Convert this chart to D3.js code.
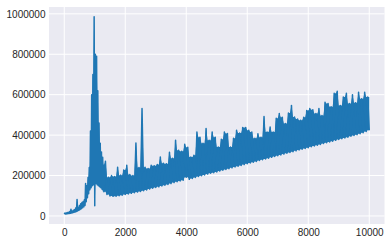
<!DOCTYPE html>
<html>
<head>
<meta charset="utf-8">
<script src="https://cdn.jsdelivr.net/npm/d3@7"></script>
<style>
  body { margin: 0; background: #fff; }
  svg { display: block; }
</style>
</head>
<body>
<svg class="canvas" width="391" height="244"></svg>
<script>
// values: the series swings between a trough and a crest,
// so it is kept as troughs (low) and crests (high) sampled along x
const earlyStep = 40; // lows at 0,40,..,1280 / highs at 20,60,..,1300
const earlyLow = [
  9000, 10000, 10000, 11000, 12000, 13000, 15000, 16000, 18000, 20000,
  22000, 25000, 28000, 32000, 36000, 40000, 45000, 52000, 70000, 90000,
  110000, 130000, 140000, 150000, 155000, 50000, 160000, 155000, 150000, 145000,
  140000, 132000, 125000
];
const earlyHigh = [
  14000, 15000, 17000, 18000, 22000, 33000, 24000, 28000, 32000, 40000,
  82000, 42000, 52000, 60000, 66000, 72000, 80000, 160000, 150000, 190000,
  240000, 420000, 600000, 700000, 985000, 800000, 790000, 620000, 460000, 360000,
  317000, 290000, 251000
];

const bandStart = 1300;
const bandStep = 100; // lows at 1300,1400,..,10000 / highs at 1350,..,9950
const bandLow = [
  120000, 106000, 99000, 97000, 98000, 100000, 103000, 106000, 109000, 112000,
  115000, 118000, 121000, 125000, 129000, 133000, 137000, 141000, 144000, 148000,
  152000, 156000, 160000, 165000, 169000, 173000, 177000, 192000, 181000, 185000,
  190000, 195000, 199000, 203000, 207000, 211000, 214000, 218000, 222000, 226000,
  230000, 234000, 238000, 242000, 246000, 250000, 254000, 258000, 262000, 266000,
  270000, 274000, 278000, 282000, 286000, 290000, 294000, 298000, 302000, 306000,
  310000, 314000, 318000, 322000, 326000, 330000, 334000, 338000, 342000, 346000,
  350000, 354000, 358000, 362000, 366000, 370000, 374000, 378000, 382000, 386000,
  390000, 394000, 398000, 402000, 407000, 412000, 418000, 424000
];
const bandHigh = [
  271000, 192000, 200000, 195000, 241000, 202000, 227000, 251000, 205000, 200000,
  361000, 240000, 532000, 241000, 235000, 251000, 248000, 255000, 292000, 261000,
  258000, 315000, 286000, 374000, 325000, 320000, 355000, 340000, 292000, 300000,
  415000, 390000, 360000, 433000, 374000, 415000, 390000, 341000, 379000, 415000,
  408000, 341000, 384000, 424000, 410000, 438000, 438000, 424000, 415000, 384000,
  407000, 389000, 492000, 415000, 440000, 415000, 483000, 507000, 488000, 458000,
  509000, 547000, 489000, 480000, 473000, 488000, 522000, 532000, 525000, 507000,
  532000, 497000, 563000, 556000, 540000, 607000, 617000, 547000, 588000, 607000,
  556000, 600000, 560000, 612000, 580000, 612000, 588000
];

const xTicks = [0, 2000, 4000, 6000, 8000, 10000];
const yTicks = [0, 200000, 400000, 600000, 800000, 1000000];

const points = [];
earlyLow.forEach((v, i) => {
  points.push({ x: i * earlyStep, v, high: false });
  points.push({ x: i * earlyStep + earlyStep / 2, v: earlyHigh[i], high: true });
});
bandLow.forEach((v, i) => {
  points.push({ x: bandStart + i * bandStep, v, high: false });
  if (i < bandHigh.length)
    points.push({ x: bandStart + i * bandStep + bandStep / 2, v: bandHigh[i], high: true });
});

// the swings are so dense the line reads as a solid band:
// fill from the troughs up to the lower of the two neighbouring crests
const nb = i => [points[i - 1], points[i + 1]].filter(Boolean).map(p => p.v);
points.forEach((p, i) => {
  p.top = p.high ? p.v : d3.min(nb(i)) ?? p.v;
  p.bot = p.high ? d3.max(nb(i)) : p.v;
});

const svgW = 391, svgH = 244;
const margin = { top: 7, right: 6.5, bottom: 20, left: 49 };
const w = svgW - margin.left - margin.right;
const h = svgH - margin.top - margin.bottom;

// matplotlib style 5% margins around the data
const pad = ([a, b]) => [a - (b - a) * 0.05, b + (b - a) * 0.05];
const x = d3.scaleLinear().domain(pad(d3.extent(points, d => d.x))).range([0, w]);
const y = d3.scaleLinear().domain(pad(d3.extent(points, d => d.v))).range([h, 0]);

const svg = d3.select(".canvas");
const g = svg.append("g").attr("transform", `translate(${margin.left},${margin.top})`);

g.append("rect").attr("width", w).attr("height", h).attr("fill", "#eaeaf2");

// grid
g.append("g")
  .selectAll("line")
  .data(xTicks)
  .enter()
  .append("line")
  .attr("x1", d => x(d))
  .attr("x2", d => x(d))
  .attr("y1", 0)
  .attr("y2", h)
  .style("stroke", "#fff")
  .style("stroke-width", 1);
g.append("g")
  .selectAll("line")
  .data(yTicks)
  .enter()
  .append("line")
  .attr("x1", 0)
  .attr("x2", w)
  .attr("y1", d => y(d))
  .attr("y2", d => y(d))
  .style("stroke", "#fff")
  .style("stroke-width", 1);

const area = d3.area().x(d => x(d.x)).y0(d => y(d.bot)).y1(d => y(d.top));
g.append("path")
  .datum(points)
  .attr("d", area)
  .attr("fill", "#1f77b4");

const line = d3.line().x(d => x(d.x)).y(d => y(d.v));
g.append("path")
  .datum(points)
  .attr("d", line)
  .attr("fill", "none")
  .style("stroke", "#1f77b4")
  .style("stroke-width", 1.5)
  .style("stroke-linejoin", "round");

const fmt = d3.format("d");
const xAxis = g.append("g")
  .attr("transform", `translate(0,${h})`)
  .call(d3.axisBottom(x).tickValues(xTicks).tickFormat(fmt).tickSize(0).tickPadding(5));
const yAxis = g.append("g")
  .call(d3.axisLeft(y).tickValues(yTicks).tickFormat(fmt).tickSize(0).tickPadding(3.5));

[xAxis, yAxis].forEach(a => {
  a.select(".domain").remove();
  a.selectAll("text")
    .style("font-family", "'Liberation Sans', Arial, sans-serif")
    .style("font-size", "10px")
    .style("fill", "#262626");
});
</script>
</body>
</html>
